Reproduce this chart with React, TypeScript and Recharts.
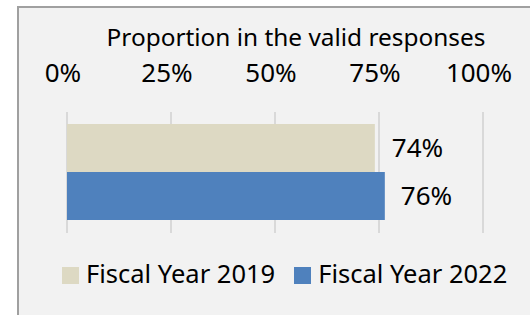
import { BarChart, Bar, XAxis, YAxis, CartesianGrid, LabelList } from 'recharts';

const categories = ['Valid responses'];
const fy2019 = [74];
const fy2022 = [76.4];
const ticks = [0, 25, 50, 75, 100];
const seriesNames = ['Fiscal Year 2019', 'Fiscal Year 2022'];
const seriesColors = ['#ddd9c3', '#4f81bd'];

const data = categories.map((name, i) => ({ name, fy2019: fy2019[i], fy2022: fy2022[i] }));

const FONT = '"Noto Sans", sans-serif';

function LegendContent() {
  return (
    <div style={{ display: 'flex', alignItems: 'flex-end', fontFamily: FONT, fontSize: 25.5, color: '#000' }}>
      {seriesNames.map((n, i) => (
        <div key={n} style={{ display: 'flex', alignItems: 'flex-end', marginRight: 19 }}>
          <span style={{ width: 17, height: 17, background: seriesColors[i], marginRight: 7, marginBottom: 4 }} />
          <span style={{ lineHeight: '30px' }}>{n}</span>
        </div>
      ))}
    </div>
  );
}

export default function App() {
  return (
    <div style={{ position: 'absolute', left: 0, top: 0, width: 530, height: 315, overflow: 'hidden', background: '#fff' }}>
      <div
        style={{
          position: 'absolute',
          left: 17,
          top: 6,
          width: 540,
          height: 330,
          background: '#f2f2f2',
          borderLeft: '2px solid #a0a0a0',
          borderTop: '2px solid #a0a0a0',
        }}
      />
      <div style={{ position: 'absolute', left: 0, top: 0 }}>
        <BarChart
          width={530}
          height={315}
          data={data}
          layout="vertical"
          margin={{ top: 72, right: 47, bottom: 82, left: 67 }}
          barCategoryGap="10%"
          barGap={0}
        >
          <text x={296} y={46} textAnchor="middle" fontFamily={FONT} fontSize={24.4} fill="#000">
            Proportion in the valid responses
          </text>
          <CartesianGrid horizontal={false} stroke="#d9d9d9" strokeWidth={2} />
          <XAxis
            type="number"
            orientation="top"
            domain={[0, 100]}
            ticks={ticks}
            height={40}
            axisLine={false}
            tickLine={false}
            tickMargin={24}
            tickFormatter={(v: number) => `${v}%`}
            tick={{ fontFamily: FONT, fontSize: 26, fill: '#000', dx: -4 }}
            interval={0}
          />
          <YAxis type="category" dataKey="name" hide width={0} />
          <Bar dataKey="fy2019" name={seriesNames[0]} fill={seriesColors[0]} isAnimationActive={false}>
            <LabelList
              dataKey="fy2019"
              position="right"
              offset={17}
              formatter={(v: number) => `${Math.round(v)}%`}
              style={{ fontFamily: FONT, fontSize: 26, fill: '#000' }}
            />
          </Bar>
          <Bar dataKey="fy2022" name={seriesNames[1]} fill={seriesColors[1]} isAnimationActive={false}>
            <LabelList
              dataKey="fy2022"
              position="right"
              offset={16}
              formatter={(v: number) => `${Math.round(v)}%`}
              style={{ fontFamily: FONT, fontSize: 26, fill: '#000' }}
            />
          </Bar>
        </BarChart>
      </div>
      <div style={{ position: 'absolute', left: 62, top: 258 }}>
        <LegendContent />
      </div>
    </div>
  );
}
